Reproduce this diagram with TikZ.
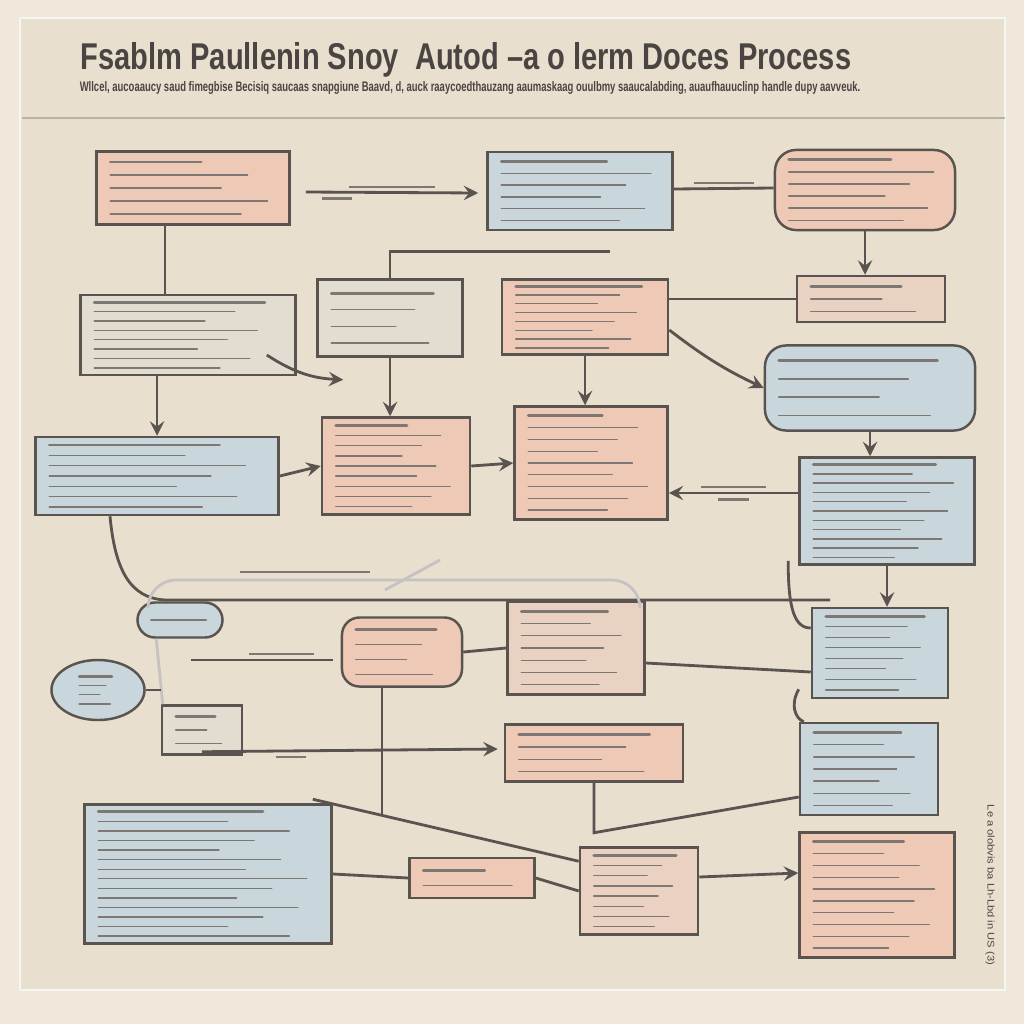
\documentclass[tikz,border=0pt]{standalone}
\usepackage{fontspec}
\setmainfont{Liberation Sans}
\usepackage{tikz}
\usetikzlibrary{shapes,arrows,calc}
\definecolor{paper}{HTML}{E9DFCE}
\definecolor{margin}{HTML}{EFE8DB}
\definecolor{pinkfill}{HTML}{EEC9B6}
\definecolor{bluefill}{HTML}{C9D7DD}
\definecolor{greyfill}{HTML}{E3DDD1}
\definecolor{edge}{HTML}{5A5450}
\definecolor{ink}{HTML}{4A4542}
\definecolor{inkgrey}{HTML}{7D7874}
\tikzstyle{pinkbox} = [rectangle, draw=edge, fill=pinkfill, line width=0.7pt, inner sep=0pt]
\tikzstyle{bluebox} = [rectangle, draw=edge, fill=bluefill, line width=0.7pt, inner sep=0pt]
\tikzstyle{greybox} = [rectangle, draw=edge, fill=greyfill, line width=0.7pt, inner sep=0pt]
\tikzstyle{scrib} = [draw=inkgrey, line cap=round]
\tikzstyle{tag} = [inner sep=1pt, text=inkgrey]
\tikzstyle{link} = [thick, draw=edge]
\tikzstyle{arrow} = [thick,->,>=stealth, draw=edge]

\begin{document}
\begin{tikzpicture}[x=0.01cm, y=-0.01cm]
\useasboundingbox (0,0) rectangle (1024,1024);
\fill[margin] (0,0) rectangle (1024,1024);
\draw[fill=paper, draw=margin!80!black!15] (20,18) rectangle (1005,990);

% header
\node (title) [inner sep=0pt, text=ink] at (466,60) {\resizebox{7.7cm}{0.27cm}{\bfseries Fsablm Paullenin Snoy\ \ Autod --a o lerm Doces Process}};
\node (sub) [inner sep=0pt, text=ink] at (470,88) {\resizebox{7.8cm}{0.1cm}{\bfseries Wllcel, aucoaaucy saud fimegbise Becisiq saucaas snapgiune Baavd, d, auck raaycoedthauzang aaumaskaag ouulbmy saaucalabding, auaufhauuclinp handle dupy aavveuk.}};
\coordinate (ruleL) at (22,118);
\coordinate (ruleR) at (1005,118);
\draw[edge!45, line width=0.8pt] (ruleL) -- (ruleR);

% boxes
\node (A) [pinkbox, minimum width=1.93cm, minimum height=0.73cm] at (193,188) {};
\node (B) [bluebox, minimum width=1.85cm, minimum height=0.78cm] at (580,191) {};
\node (C) [pinkbox, rounded corners=6pt, minimum width=1.8cm, minimum height=0.8cm] at (865,190) {};
\node (D) [greybox, minimum width=2.15cm, minimum height=0.8cm] at (188,335) {};
\node (E) [greybox, minimum width=1.45cm, minimum height=0.77cm] at (390,318) {};
\node (F) [pinkbox, minimum width=1.66cm, minimum height=0.75cm] at (585,317) {};
\node (G) [pinkbox, fill=pinkfill!55!greyfill, minimum width=1.48cm, minimum height=0.46cm] at (871,299) {};
\node (H) [bluebox, rounded corners=6pt, minimum width=2.1cm, minimum height=0.85cm] at (870,388) {};
\node (I) [bluebox, minimum width=2.43cm, minimum height=0.78cm] at (157,476) {};
\node (J) [pinkbox, minimum width=1.48cm, minimum height=0.97cm] at (396,466) {};
\node (K) [pinkbox, minimum width=1.53cm, minimum height=1.13cm] at (591,463) {};
\node (L) [bluebox, minimum width=1.75cm, minimum height=1.07cm] at (887,511) {};
\node (M) [bluebox, rounded corners=5pt, minimum width=0.85cm, minimum height=0.35cm] at (180,620) {};
\node (N) [pinkbox, rounded corners=5pt, minimum width=1.2cm, minimum height=0.69cm] at (402,652) {};
\node (O) [pinkbox, fill=pinkfill!55!greyfill, minimum width=1.37cm, minimum height=0.93cm] at (576,648) {};
\node (P) [bluebox, minimum width=1.36cm, minimum height=0.9cm] at (880,653) {};
\node (Q) [bluebox, ellipse, minimum width=0.93cm, minimum height=0.6cm] at (98,690) {};
\node (R) [greybox, minimum width=0.8cm, minimum height=0.49cm] at (202,730) {};
\node (S) [pinkbox, minimum width=1.78cm, minimum height=0.57cm] at (594,753) {};
\node (T) [bluebox, minimum width=1.38cm, minimum height=0.92cm] at (869,769) {};
\node (U) [bluebox, minimum width=2.47cm, minimum height=1.39cm] at (208,874) {};
\node (V) [pinkbox, minimum width=1.25cm, minimum height=0.4cm] at (472,878) {};
\node (W) [pinkbox, fill=pinkfill!60!greyfill, minimum width=1.18cm, minimum height=0.87cm] at (639,891) {};
\node (X) [pinkbox, minimum width=1.55cm, minimum height=1.25cm] at (877,895) {};

% scribbled text lines in the boxes
\foreach \nd/\k in {A/5,B/6,C/6,D/8,E/4,F/8,G/3,H/4,I/7,J/9,K/9,L/11,M/1,N/4,O/7,P/8,Q/4,R/3,S/4,T/7,U/14,V/2,W/8,X/10}{
  \foreach \i in {1,...,\k}{
    \pgfmathsetmacro\f{0.55+0.04*mod(\i*7+\k*3,11)}
    \pgfmathsetmacro\lw{\i==1 ? 0.8 : 0.4}
    \draw[scrib, line width=\lw pt] let \p1=(\nd.north west), \p2=(\nd.south east) in
      ({\x1+1.5mm}, {\y1-(\y1-\y2)*(\i-0.1)/(\k+0.8)}) -- ++({\f*(\x2-\x1-3mm)}, 0pt);
  }
}

% connectors
\draw[link] ($(A.south)+(-28,0)$) -- ($(D.north)+(-23,0)$);
\draw[arrow] ($(A.east)+(15,4)$) -- node[tag, above] (l1) {\rule{0.85cm}{0.5pt}} node[tag, below, xshift=-0.55cm] (l2) {\rule{0.3cm}{0.8pt}} ($(B.west)+(-8,2)$);
\draw[link] ($(B.east)+(0,-2)$) -- node[tag, above] (l3) {\rule{0.6cm}{0.5pt}} ($(C.west)+(0,-2)$);
\draw[arrow] (C.south) -- (C.south |- G.north);
\draw[link] (F.east |- G.west) -- (G.west);
\draw[arrow] ($(F.east)+(0,13)$) to[bend right=6] (H.west);
\coordinate (d1) at ($(E.south west)+(27,22)$);
\draw[arrow] ($(D.east)+(-30,20)$) to[bend right=15] (d1);
\draw[link] (E.north) |- ($(F.north)+(25,-27)$);
\draw[arrow] (E.south) -- (E.south |- J.north);
\draw[arrow] (F.south) -- (F.south |- K.north);
\draw[arrow] (I.north |- D.south) -- (I.north);
\draw[arrow] (I.east) -- (J.west);
\draw[arrow] (J.east) -- (K.west);
\coordinate (k1) at ($(L.west)+(0,-18)$);
\draw[arrow] (k1) -- node[tag, above] (l4) {\rule{0.65cm}{0.5pt}} node[tag, below] (l5) {\rule{0.3cm}{0.8pt}} (K.east |- k1);
\draw[arrow] (H.south) -- (H.south |- L.north);
\draw[arrow] (L.south) -- (L.south |- P.north);
\draw[link] ($(L.south west)+(-10,-5)$) .. controls (788,610) and (795,628) .. ($(P.west)+(0,-25)$);

% long loop under the middle row
\coordinate (loopE) at (830,600);
\draw[link] ($(I.south)+(-47,0)$) .. controls (115,570) and (130,598) .. (165,600) -- (loopE);
\draw[edge!35, thick, rounded corners=8pt] (148,608) -- (148,580) -- (640,580) -- (640,602);
\node (l6) [tag] at (305,572) {\rule{1.3cm}{0.5pt}};
\draw[edge!35, thick] (385,590) -- (440,560);

\draw[link] (N.east) -- (O.west);
\draw[link] ($(N.west)+(-150,8)$) -- node[tag, above, xshift=0.2cm] (l7) {\rule{0.65cm}{0.6pt}} ($(N.west)+(-8,8)$);
\draw[link] ($(O.east)+(0,15)$) -- ($(P.west)+(0,19)$);
\draw[link] ($(N.south)+(-20,0)$) -- ++(0,128);
\draw[link] ($(P.south west)+(-12,-10)$) .. controls (790,705) and (795,718) .. ($(T.north west)+(5,0)$);
\draw[edge!35, thick] ($(M.south west)+(20,0)$) -- ($(R.north west)+(2,0)$);
\draw[link] (Q.east) -- ++(15,0);
\draw[arrow] ($(R.south)+(0,-4)$) -- node[tag, below, pos=0.3] (l8) {\rule{0.3cm}{0.5pt}} ($(S.west)+(-6,-4)$);
\draw[link] (S.south) -- ++(0,50) -- ($(T.west)+(0,28)$);
\draw[link] ($(U.north east)+(-20,-4)$) -- ($(W.north west)+(0,15)$);
\draw[link] (U.east) -- (V.west);
\draw[link] (V.east) -- (W.west);
\draw[arrow] ($(W.east)+(0,-14)$) -- ($(X.west)+(0,-22)$);

% side note
\node (side) [inner sep=0pt, text=ink, rotate=-90] at (990,885) {\resizebox{1.6cm}{0.07cm}{Le a olobvis ba Lh-Lbd in US (3)}};
\end{tikzpicture}
\end{document}
